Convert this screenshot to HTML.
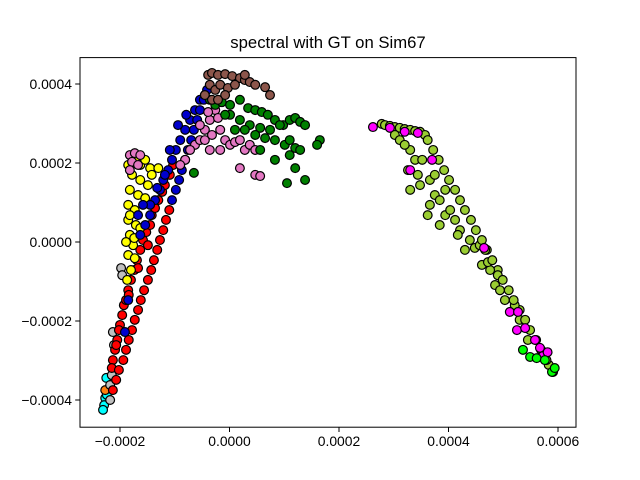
<!DOCTYPE html>
<html><head><meta charset="utf-8"><style>
html,body{margin:0;padding:0;background:#fff;}
svg{display:block;font-family:"Liberation Sans","DejaVu Sans",sans-serif;}
</style></head><body>
<svg id="chart" width="640" height="480" viewBox="0 0 640 480">
<rect x="0" y="0" width="640" height="480" fill="#fff"/>
<text x="328" y="48" text-anchor="middle" font-size="16.7">spectral with GT on Sim67</text>
<g id="points"></g>
<rect x="80" y="57.6" width="496" height="369.6" fill="none" stroke="#000" stroke-width="1"/>
<g id="xticks"></g>
<g id="yticks"></g>
</svg>
<script>
// values in units of 1e-6
const xTickVals = [-200, 0, 200, 400, 600];
const xTickLabels = ["\u22120.0002", "0.0000", "0.0002", "0.0004", "0.0006"];
const yTickVals = [-400, -200, 0, 200, 400];
const yTickLabels = ["\u22120.0004", "\u22120.0002", "0.0000", "0.0002", "0.0004"];

const cyanX = [-225,-227,-229,-231,-224];
const cyanY = [-344,-395,-413,-425,-387];
const orangeX = [-227];
const orangeY = [-375];
const greyX = [-198,-196,-213,-211,-215,-218,-218];
const greyY = [-66,-84,-228,-261,-337,-362,-400];
const redX = [-209,-205,-200,-196,-193,-189,-185,-180,-174,-169,-163,-158,-152,-145,-142,-136,-130,-123,-118,-109,-103,-149,-167,-184,-202,-207,-213,-215,-213,-202,-189,-178,-167,-156,-143,-132,-121,-110,-207,-194,-184,-173,-162,-149,-138,-127,-116];
const redY = [-273,-248,-210,-185,-160,-147,-122,-96,-71,-46,-20,5,25,43,68,86,106,127,144,170,195,-8,-66,-134,-223,-261,-299,-319,-375,-324,-273,-223,-172,-122,-71,-20,30,81,-349,-299,-248,-197,-147,-96,-46,5,56];
const yellowX = [-185,-173,-163,-145,-178,-163,-149,-182,-167,-154,-185,-173,-185,-171,-182,-163,-176,-185,-173,-180,-187,-174,-142,-130,-154,-189,-182];
const yellowY = [195,208,195,187,170,157,144,132,119,111,94,81,56,43,18,35,-8,-33,-41,-71,-96,10,170,187,208,0,68];
const blueX = [-163,-154,-145,-136,-127,-121,-112,-105,-98,-90,-81,-72,-63,-54,-45,-118,-132,-145,-158,-167,-109,-94,-79,-191,-185,-98,-87,-76,-65,-54,-41,-105,-92,-81,-70,-59,-47];
const blueY = [18,43,68,106,132,157,182,208,233,258,284,309,334,360,372,170,137,94,94,68,233,296,322,-228,-147,132,182,233,284,334,385,106,157,208,258,309,360];
const pinkX = [-182,-173,-163,-178,-167,-182,-63,-72,-81,-90,-54,-45,-36,-26,-54,-45,-32,-17,-8,1,10,19,28,37,47,-36,-17,19,47,56,-39,-21];
const pinkY = [220,225,220,203,195,182,246,233,208,195,258,284,309,334,296,258,271,284,258,246,253,258,233,246,233,233,233,187,170,167,329,314];
const greenX = [-26,-14,1,19,34,47,59,70,83,98,110,120,129,138,1,19,37,56,74,92,10,28,47,65,83,101,110,120,129,56,83,110,120,138,165,160,-65,105,-8,-36];
const greenY = [347,354,347,360,339,334,329,322,309,296,309,314,304,296,322,309,296,289,284,296,284,284,271,263,258,246,258,238,233,233,208,220,187,157,258,246,175,149,322,360];
const brownX = [-39,-32,-21,-8,5,19,28,37,47,-36,-26,-17,-3,-45,-32,-8,10,65,74,-21,28];
const brownY = [423,428,423,425,420,415,410,405,398,398,385,398,390,372,360,372,398,392,372,360,423];
const oliveX = [278,284,293,302,311,320,330,339,348,357,362,372,392,412,430,450,470,490,510,530,549,569,583,330,339,326,344,348,330,366,375,366,362,384,394,384,412,421,417,439,448,457,461,476,485,472,494,503,521,530,545,375,352,394,403,430,467,490,302,311,320,382,401,421,441,461,480,499,519,540,560,579,591];
const oliveY = [299,296,294,291,289,286,284,281,279,271,258,233,182,132,81,30,-20,-71,-122,-172,-223,-273,-311,233,208,182,170,144,132,157,119,94,68,106,68,43,56,30,18,5,-15,-8,-58,-71,-109,-51,-122,-147,-160,-197,-248,170,208,132,81,-20,-20,-84,271,258,246,208,157,106,56,5,-46,-96,-147,-197,-248,-299,-329];
const magentaX = [262,293,320,344,330,370,512,527,525,540,558,567,572,581,465];
const magentaY = [291,289,279,276,182,208,-177,-177,-223,-218,-248,-268,-289,-279,-15];
const limeX = [536,549,561,576,589,594];
const limeY = [-273,-291,-294,-299,-329,-319];

const series = [
  ["cyan", cyanX, cyanY, "#00ffff"],
  ["orange", orangeX, orangeY, "#ff7f0e"],
  ["grey", greyX, greyY, "#bfbfbf"],
  ["red", redX, redY, "#ff0000"],
  ["yellow", yellowX, yellowY, "#ffff00"],
  ["blue", blueX, blueY, "#0000cd"],
  ["pink", pinkX, pinkY, "#e377c2"],
  ["green", greenX, greenY, "#008000"],
  ["brown", brownX, brownY, "#8c564b"],
  ["olive", oliveX, oliveY, "#9acd32"],
  ["magenta", magentaX, magentaY, "#ff00ff"],
  ["lime", limeX, limeY, "#00ff00"]
];

const NS = "http://www.w3.org/2000/svg";
function sx(v){ return 229.5 + v / 200 * 109.5; }
function sy(v){ return 242 - v / 200 * 79; }

const pts = document.getElementById("points");
series.forEach(function(s){
  const g = document.createElementNS(NS, "g");
  
  
  for (let i = 0; i < s[1].length; i++) {
    const c = document.createElementNS(NS, "circle");
    c.setAttribute("cx", sx(s[1][i]));
    c.setAttribute("cy", sy(s[2][i]));
    c.setAttribute("r", 4.4);
    c.setAttribute("fill", s[3]);
    c.setAttribute("stroke", "#000");
    c.setAttribute("stroke-width", 1.2);
    
    
    g.appendChild(c);
  }
  pts.appendChild(g);
});

const xg = document.getElementById("xticks");
xTickVals.forEach(function(v, i){
  const x = sx(v);
  const l = document.createElementNS(NS, "line");
  l.setAttribute("x1", x); l.setAttribute("x2", x);
  l.setAttribute("y1", 427.2); l.setAttribute("y2", 432);
  l.setAttribute("stroke", "#000");
  
  
  xg.appendChild(l);
  const t = document.createElementNS(NS, "text");
  t.setAttribute("x", x); t.setAttribute("y", 446);
  t.setAttribute("text-anchor", "middle");
  t.setAttribute("font-size", "13.9");
  t.textContent = xTickLabels[i];
  
  
  xg.appendChild(t);
});
const yg = document.getElementById("yticks");
yTickVals.forEach(function(v, i){
  const y = sy(v);
  const l = document.createElementNS(NS, "line");
  l.setAttribute("x1", 75.2); l.setAttribute("x2", 80);
  l.setAttribute("y1", y); l.setAttribute("y2", y);
  l.setAttribute("stroke", "#000");
  
  
  yg.appendChild(l);
  const t = document.createElementNS(NS, "text");
  t.setAttribute("x", 72); t.setAttribute("y", y + 5);
  t.setAttribute("text-anchor", "end");
  t.setAttribute("font-size", "13.9");
  t.textContent = yTickLabels[i];
  
  
  yg.appendChild(t);
});
</script>
</body></html>
